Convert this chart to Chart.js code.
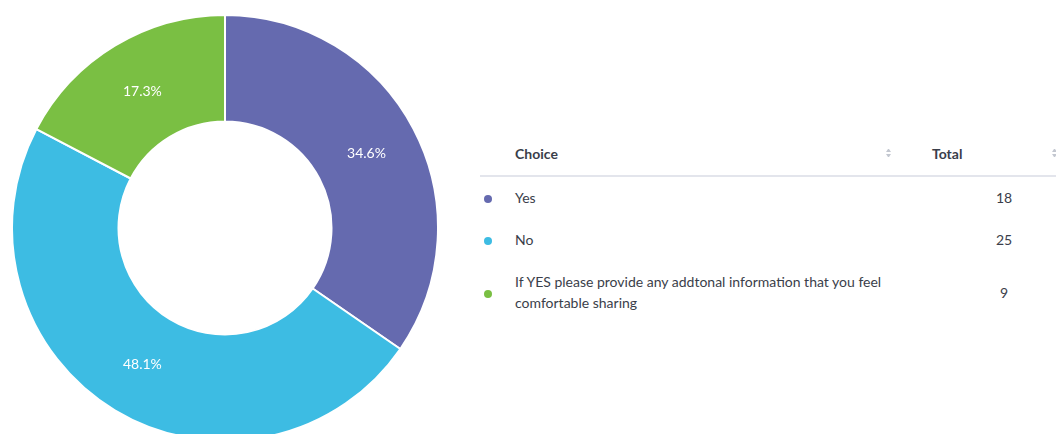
<!DOCTYPE html>
<html lang="en">
<head>
    <meta charset="UTF-8">
    <title>Choice totals</title>
    <script src="https://cdn.jsdelivr.net/npm/chart.js"></script>
    <style>
        body {
            margin: 0;
            width: 1056px;
            height: 434px;
            overflow: hidden;
            background: #fff;
            font-family: Lato, sans-serif;
            color: #3a3e4a;
        }
        #chartBox {
            position: absolute;
            left: 11px;
            top: 14px;
            width: 428px;
            height: 428px;
        }
        table {
            position: absolute;
            left: 480px;
            top: 131px;
            width: 576px;
            border-collapse: collapse;
            font-size: 14px;
            line-height: 21px;
            table-layout: fixed;
        }
        th {
            font-weight: bold;
            text-align: left;
            padding: 12px 0 11px 0;
            border-bottom: 2px solid #e3e5ec;
            position: relative;
        }
        td {
            padding: 10px 0 11px 0;
            vertical-align: middle;
        }
        .dot {
            display: inline-block;
            width: 8px;
            height: 8px;
            border-radius: 50%;
            margin-left: 4px;
        }
        .sort {
            position: absolute;
            top: 50%;
            transform: translateY(-50%);
            width: 5px;
        }
        .sort::before, .sort::after {
            content: "";
            display: block;
            border-left: 2.5px solid transparent;
            border-right: 2.5px solid transparent;
        }
        .sort::before { border-bottom: 3px solid #c3c7d0; margin-bottom: 2px; }
        .sort::after { border-top: 3px solid #c3c7d0; }
        .num { text-align: center; padding-left: 52px; }
    </style>
</head>
<body>
    <div id="chartBox"><canvas id="choiceChart"></canvas></div>
    <table id="choiceTable">
        <colgroup>
            <col style="width:35px">
            <col style="width:385px">
            <col style="width:156px">
        </colgroup>
    </table>

    <script>
        const choices = ["Yes", "No", "If YES please provide any addtonal information that you feel comfortable sharing"];
        const totals = [18, 25, 9];
        const colors = ["#656aaf", "#3dbce3", "#7abf43"];

        // percentage labels on the slices
        const sliceLabels = {
            id: "sliceLabels",
            afterDatasetsDraw(chart) {
                const ctx = chart.ctx;
                const meta = chart.getDatasetMeta(0);
                const sum = totals.reduce((a, b) => a + b, 0);
                ctx.save();
                ctx.fillStyle = "#fff";
                ctx.font = "14px Lato";
                ctx.textAlign = "center";
                ctx.textBaseline = "middle";
                meta.data.forEach((arc, i) => {
                    const p = arc.tooltipPosition();
                    ctx.fillText((totals[i] / sum * 100).toFixed(1) + "%", p.x, p.y);
                });
                ctx.restore();
            }
        };

        new Chart(document.getElementById("choiceChart"), {
            type: "doughnut",
            data: {
                labels: choices,
                datasets: [{
                    data: totals,
                    backgroundColor: colors,
                    borderColor: "#fff",
                    borderWidth: 2
                }]
            },
            options: {
                responsive: true,
                maintainAspectRatio: false,
                animation: false,
                cutout: "50%",
                plugins: {
                    legend: { display: false },
                    tooltip: { enabled: false }
                }
            },
            plugins: [sliceLabels]
        });

        // table next to the chart
        let html = '<tr><th></th><th>Choice<span class="sort" style="left:371px"></span></th>' +
                   '<th style="padding-left:32px">Total<span class="sort" style="left:152px"></span></th></tr>';
        choices.forEach((c, i) => {
            html += `<tr><td><span class="dot" style="background:${colors[i]}"></span></td>` +
                    `<td>${c}</td><td class="num">${totals[i]}</td></tr>`;
        });
        document.getElementById("choiceTable").insertAdjacentHTML("beforeend", html);
    </script>
</body>
</html>
